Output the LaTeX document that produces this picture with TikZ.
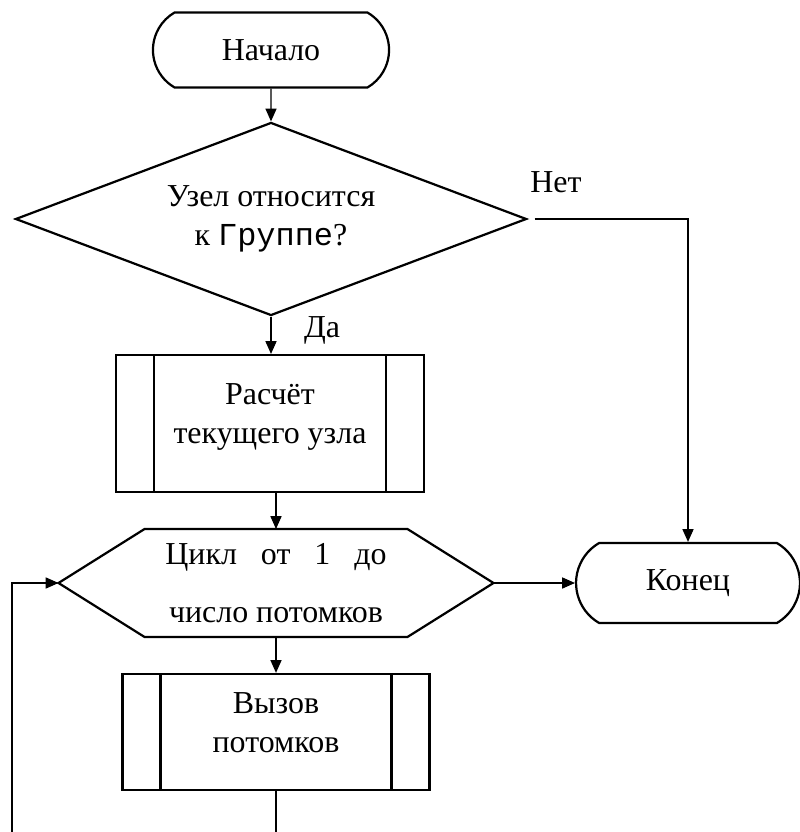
\documentclass[tikz,border=0pt]{standalone}
\usepackage{fontspec}
\setmainfont{Liberation Serif}
\newfontfamily\courierfont{Liberation Mono}
\usetikzlibrary{shapes.geometric}
\usetikzlibrary{shapes.misc}
\usetikzlibrary{arrows.meta}

\begin{document}
\begin{tikzpicture}[x=0.36pt, y=-0.36pt, font=\fontsize{11.5}{14}\selectfont,
        line width=0.4pt, >={Triangle[length=4.6pt,width=4pt]},
        term/.style={rounded rectangle, rounded rectangle arc length=120, draw, line width=0.8pt, inner sep=0pt},
        cond/.style={diamond, aspect=2.65, draw, line width=0.8pt, inner sep=0pt, align=center},
        proc/.style={rectangle, draw, line width=0.8pt, inner sep=0pt,
            path picture={
                \draw[line width=0.8pt] ([xshift=13.7pt]path picture bounding box.north west) -- ([xshift=13.7pt]path picture bounding box.south west);
                \draw[line width=0.8pt] ([xshift=-13.7pt]path picture bounding box.north east) -- ([xshift=-13.7pt]path picture bounding box.south east);
            }},
        loopbox/.style={rectangle, inner sep=0pt, outer sep=0pt, align=center}]
            \useasboundingbox (0,0) rectangle (800,832);
            \clip (0,0) rectangle (800,832);

            \node[term, minimum width=85pt, minimum height=27pt] (start) at (271,50) {Начало};
            \node[cond, minimum width=184pt, minimum height=69.5pt] (ask) at (271,219) {Узел относится\\к {\courierfont Группе}?};
            \node[proc, minimum width=111pt, minimum height=49.3pt,
                label={[name=calc-text, align=center, yshift=2.2pt]center:Расчёт\\текущего узла}] (calc) at (270,423.5) {};
            \node[loopbox, minimum width=156.6pt, minimum height=38.9pt] (cyc) at (276,583) {Цикл\hspace{0.75em}от\hspace{0.75em}1\hspace{0.75em}до\\[7pt]число потомков};
            \draw[line width=0.8pt] (cyc.west) -- ([xshift=31pt]cyc.north west) -- ([xshift=-31pt]cyc.north east)
                -- (cyc.east) -- ([xshift=-31pt]cyc.south east) -- ([xshift=31pt]cyc.south west) -- cycle;
            \node[term, minimum width=80.6pt, minimum height=28.8pt] (fin) at (688,583) {Конец};
            \node[proc, minimum width=110.5pt, minimum height=41.8pt,
                label={[name=call-text, align=center, yshift=3.2pt]center:Вызов\\потомков}] (call) at (276,732) {};

            \node (no) at (556,182) {Нет};
            \node (yes) at (322,330) {Да};
            \coordinate (back) at (12,860);

            \draw[->] (start) -- (ask);
            \draw[->, shorten <=2.5pt] (ask.east) -| (fin.north);
            \draw[->] (ask.south) -- (ask.south |- calc.north);
            \draw[->] (calc.south -| cyc.north) -- (cyc.north);
            \draw[->] (cyc.east) -- (fin.west);
            \draw[->] (cyc.south) -- (call.north);
            \draw[->] (call.south) |- (back) |- (cyc.west);
        \end{tikzpicture}
\end{document}
